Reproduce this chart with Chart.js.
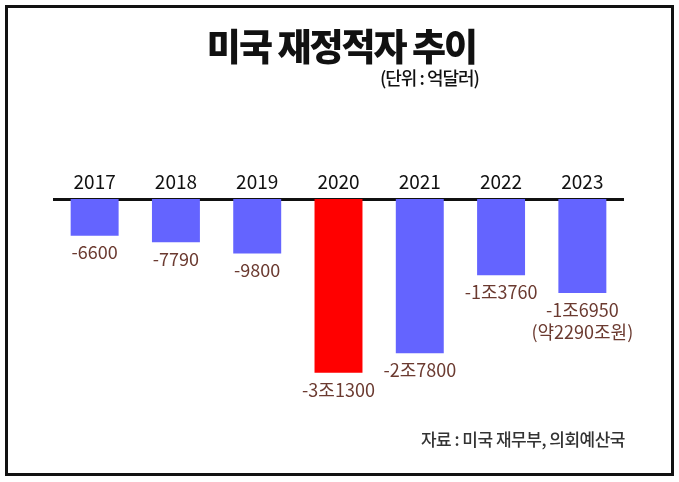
<!DOCTYPE html>
<html>
<head>
<meta charset="utf-8">
<script src="https://cdn.jsdelivr.net/npm/chart.js@4.4.0/dist/chart.umd.min.js"></script>
<style>
    html, body { margin: 0; padding: 0; background: #ffffff; }
    body { width: 679px; height: 482px; position: relative; overflow: hidden; font-family: "Noto Sans CJK KR", "Noto Sans", sans-serif; }
    #frame { position: absolute; left: 5px; top: 5px; width: 663px; height: 465px; border: 3px solid #111; }
    #chartBox { position: absolute; left: 0; top: 0; width: 679px; height: 482px; }
    .title { position: absolute; left: 0; width: 679px; top: 18px; text-align: center; font-size: 37px; font-weight: 900; color: #111; letter-spacing: -2px; padding-left: 2px; }
    .unit { position: absolute; right: 200px; top: 64px; font-size: 18px; font-weight: 500; color: #111; letter-spacing: -1px; }
    .source { position: absolute; right: 54px; top: 426px; font-size: 17px; font-weight: 500; color: #333; letter-spacing: -0.5px; }
</style>
</head>
<body>
<div id="frame"></div>
<div id="chartBox"><canvas id="deficitChart" width="679" height="482"></canvas></div>
<div class="title">미국 재정적자 추이</div>
<div class="unit">(단위 : 억달러)</div>
<div class="source">자료 : 미국 재무부, 의회예산국</div>
<script>
// Chart data
const years = ['2017', '2018', '2019', '2020', '2021', '2022', '2023'];
const deficits = [-6600, -7790, -9800, -31300, -27800, -13760, -16950];
const valueLabels = [['-6600'], ['-7790'], ['-9800'], ['-3조1300'], ['-2조7800'], ['-1조3760'], ['-1조6950', '(약2290조원)']];
const barColors = ['#6464ff', '#6464ff', '#6464ff', '#ff0000', '#6464ff', '#6464ff', '#6464ff'];

// Draw the value labels under each bar
const valueLabelPlugin = {
    id: 'valueLabels',
    afterDatasetsDraw(chart) {
        const ctx = chart.ctx;
        const meta = chart.getDatasetMeta(0);
        ctx.save();
        ctx.fillStyle = '#6b3a30';
        ctx.font = '18px "Noto Sans CJK KR", "Noto Sans", sans-serif';
        ctx.textAlign = 'center';
        ctx.textBaseline = 'middle';
        meta.data.forEach((bar, i) => {
            valueLabels[i].forEach((line, j) => {
                ctx.fillText(line, bar.x, bar.y + 17 + j * 22);
            });
        });
        ctx.restore();
    }
};

function createDeficitChart() {
    const ctx = document.getElementById('deficitChart').getContext('2d');
    new Chart(ctx, {
        type: 'bar',
        data: {
            labels: years,
            datasets: [{
                data: deficits,
                backgroundColor: barColors,
                borderWidth: 0,
                barPercentage: 0.59,
                categoryPercentage: 1
            }]
        },
        options: {
            responsive: false,
            animation: false,
            layout: {
                padding: { left: 54, right: 56, top: 159, bottom: 61 }
            },
            plugins: {
                legend: { display: false },
                tooltip: { enabled: false }
            },
            scales: {
                x: {
                    position: 'top',
                    grid: { display: false, drawTicks: false },
                    border: { display: true, color: '#111', width: 3 },
                    ticks: {
                        color: '#111',
                        padding: 6,
                        font: { family: '"Noto Sans CJK KR", "Noto Sans", sans-serif', size: 19, weight: 'normal' }
                    },
                    afterFit(scale) { scale.height = 40; }
                },
                y: {
                    display: false,
                    min: -40000,
                    max: 0
                }
            }
        },
        plugins: [valueLabelPlugin]
    });
}

document.addEventListener('DOMContentLoaded', createDeficitChart);
</script>
</body>
</html>
